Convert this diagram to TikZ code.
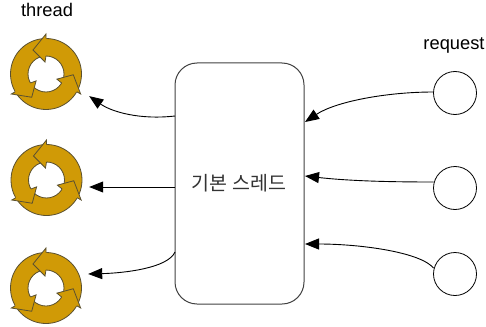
\documentclass[tikz,border=0pt]{standalone}
\usepackage{fontspec}
\setmainfont{Liberation Sans}
\newfontfamily\krfont{Noto Sans CJK KR}
\usetikzlibrary{arrows.meta}
\tikzset{
  x=1pt,y=-1pt,
  boxstyle/.style={draw=black!75,line width=1pt,rounded corners=22pt,minimum width=129pt,minimum height=241pt,inner sep=0pt},
  reqstyle/.style={circle,draw=black,line width=0.8pt,minimum size=43pt,inner sep=0pt},
  labelstyle/.style={font=\fontsize{18.3}{20}\selectfont,inner sep=0pt},
  conn/.style={draw=black,line width=0.9pt,-{Triangle[length=14pt,width=11pt]}},
  anchorpt/.style={inner sep=0pt,minimum size=0pt},
  pics/cycle/.style={code={
    \fill[gold,draw=ringline,line width=0.8pt,even odd rule] (0,0) circle (35.5pt) (0,0) circle (18pt);
    \foreach \a in {0,-120,-240}{
      \begin{scope}[rotate=\a]
        \fill[gold] (0,-40) -- (-13,-24) -- (-1,-12) -- (0,-18.5) -- (6,-28) -- (0,-36) -- cycle;
        \draw[ringline,line width=0.8pt,line join=miter] (0,-35.5) -- (0,-40) -- (-13,-24) -- (-1,-12) -- (0,-18);
      \end{scope}}
  }}
}
\definecolor{gold}{HTML}{D09A06}
\definecolor{ringline}{HTML}{5A5030}
\begin{document}
\begin{tikzpicture}
\useasboundingbox (0,0) rectangle (486,326);
\node[boxstyle] (box) at (239.5,183.5) {};
\node[font=\krfont\fontsize{19.5}{22}\selectfont,inner sep=0pt,text=black!80] (center) at (239,183) {기본 스레드};
\node[labelstyle] (threadlabel) at (47,10) {thread};
\node[labelstyle] (requestlabel) at (454,45) {request};
\pic at (46,74) {cycle};
\pic at (46.5,180) {cycle};
\pic at (46,288) {cycle};
\node[anchorpt] (t1) at (89,96) {};
\node[anchorpt] (t2) at (89,187) {};
\node[anchorpt] (t3) at (88,274) {};
\node[reqstyle] (r1) at (455,93) {};
\node[reqstyle] (r2) at (455,188) {};
\node[reqstyle] (r3) at (455,274) {};
\coordinate (b1) at (175,116);
\coordinate (b2) at (175,187);
\coordinate (b3) at (175,252);
\coordinate (c1) at (305,122);
\coordinate (c2) at (305,176);
\coordinate (c3) at (305,244);
\coordinate (q1) at (433.5,92);
\coordinate (q2) at (433.5,182);
\coordinate (q3) at (433.5,268);
\draw[conn] (b1) .. controls (140,120) and (112,112) .. (t1);
\draw[conn] (b2) -- (t2);
\draw[conn] (b3) .. controls (168,268) and (125,273) .. (t3);
\draw[conn] (q1) .. controls (385,92) and (335,102) .. (c1);
\draw[conn] (q2) .. controls (390,182) and (350,181) .. (c2);
\draw[conn] (q3) .. controls (420,252) and (360,244) .. (c3);
\end{tikzpicture}
\end{document}
